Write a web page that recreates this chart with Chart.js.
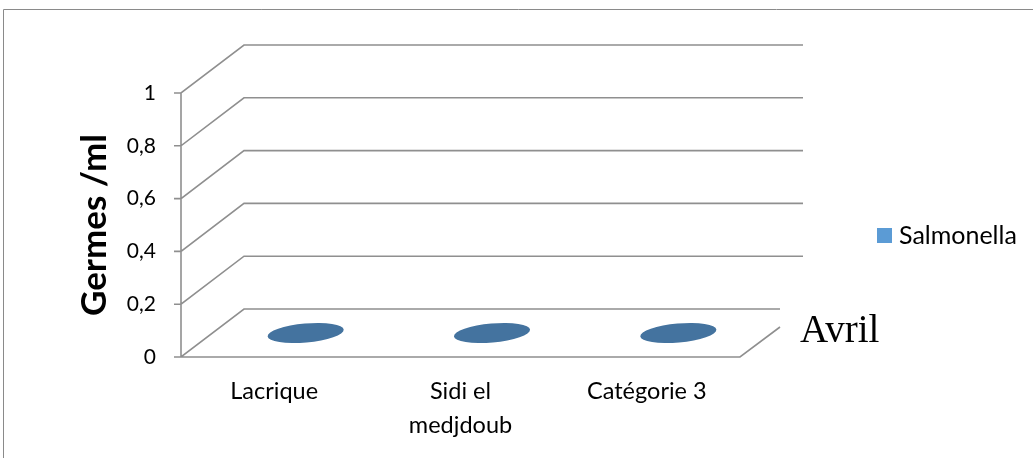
<!DOCTYPE html>
<html lang="fr">
<head>
  <meta charset="UTF-8" />
  <meta name="viewport" content="width=device-width, initial-scale=1.0" />
  <title>Salmonella - Avril</title>
  <style>
    body { margin: 0; background: #fff; }
    #wrap { position: relative; width: 1033px; height: 458px; }
  </style>
</head>
<body>
  <div id="wrap"><canvas id="myChart"></canvas></div>

  <script src="https://cdn.jsdelivr.net/npm/chart.js"></script>
  <script>
    const ctx = document.getElementById('myChart');

// data
const categories = ['Lacrique', ['Sidi el', 'medjdoub'], 'Catégorie 3'];
const salmonella = [0, 0, 0];
const seriesName = 'Salmonella';
const depthLabels = ['Avril'];
const yTicks = [0, 0.2, 0.4, 0.6, 0.8, 1];

const LINE = '#8f8f8f';
const SERIES_COLOR = '#5B9BD5';
const TOP_COLOR = '#44739F';
const DEPTH_X = 63, DEPTH_Y = 48;

// 3D walls, floor, cylinder tops and the side legend
const walls3d = {
  id: 'walls3d',
  beforeDraw(chart) {
    const c = chart.ctx;
    const a = chart.chartArea;
    const y = chart.scales.y;
    c.save();
    // outer frame
    c.strokeStyle = '#8a8a8a';
    c.lineWidth = 1;
    c.beginPath();
    c.moveTo(3.5, 470);
    c.lineTo(3.5, 9.5);
    c.lineTo(1040, 9.5);
    c.stroke();

    c.strokeStyle = LINE;
    c.lineWidth = 1.6;
    c.beginPath();
    // vertical axis
    c.moveTo(a.left, y.getPixelForValue(1));
    c.lineTo(a.left, y.getPixelForValue(0));
    yTicks.forEach(v => {
      const py = y.getPixelForValue(v);
      c.moveTo(a.left - 7, py);
      c.lineTo(a.left, py);
      c.lineTo(a.left + DEPTH_X, py - DEPTH_Y);
      const end = v === 0 ? a.right + 40 : a.right + DEPTH_X;
      c.lineTo(end, py - DEPTH_Y);
    });
    // floor front edge and right edge
    const y0 = y.getPixelForValue(0);
    c.moveTo(a.left, y0);
    c.lineTo(a.right, y0);
    c.lineTo(a.right + 40, y0 - 30);
    c.stroke();
    c.restore();
  },
  beforeDatasetsDraw() {
    return false;
  },
  afterDraw(chart) {
    const c = chart.ctx;
    const meta = chart.getDatasetMeta(0);
    c.save();
    meta.data.forEach(bar => {
      const cx = bar.x + DEPTH_X / 2;
      const top = bar.y - DEPTH_Y / 2;
      const base = bar.base - DEPTH_Y / 2;
      const rx = bar.width / 2, ry = 9.5, rot = -0.09;
      if (base - top > 0.5) {
        c.fillStyle = SERIES_COLOR;
        c.fillRect(cx - rx, top, rx * 2, base - top);
        c.beginPath();
        c.ellipse(cx, base, rx, ry, rot, 0, Math.PI);
        c.fill();
      }
      c.fillStyle = TOP_COLOR;
      c.beginPath();
      c.ellipse(cx, top, rx, ry, rot, 0, Math.PI * 2);
      c.fill();
    });

    // legend
    c.fillStyle = SERIES_COLOR;
    c.fillRect(877, 228, 15, 15);
    c.fillStyle = '#000';
    c.font = '25px Lato';
    c.textBaseline = 'middle';
    c.textAlign = 'left';
    c.fillText(seriesName, 899, 236);

    // depth axis label
    c.font = '39px "Liberation Serif"';
    c.fillText(depthLabels[0], 800, 332);
    c.restore();
  }
};

new Chart(ctx, {
  type: 'bar',
  data: {
    labels: categories,
    datasets: [{
      label: seriesName,
      data: salmonella,
      backgroundColor: SERIES_COLOR,
      borderWidth: 0,
      categoryPercentage: 1,
      barPercentage: 0.41
    }]
  },
  options: {
    responsive: true,
    maintainAspectRatio: false,
    animation: false,
    layout: { padding: { left: 0, top: 93, right: 293, bottom: 0 } },
    plugins: {
      legend: { display: false },
      tooltip: { enabled: false }
    },
    scales: {
      x: {
        grid: { display: false, drawTicks: false },
        border: { display: false },
        ticks: {
          color: '#000',
          padding: 17,
          font: { family: 'Lato', size: 23.5, lineHeight: '34px' }
        },
        afterFit(scale) { scale.height = 101; }
      },
      y: {
        min: 0,
        max: 1,
        grid: { display: false, drawTicks: true, tickLength: 7 },
        border: { display: false },
        ticks: {
          stepSize: 0.2,
          color: '#000',
          padding: 18,
          font: { family: 'Lato', size: 21 },
          callback: v => String(Math.round(v * 10) / 10).replace('.', ',')
        },
        title: {
          display: true,
          text: 'Germes /ml',
          color: '#000',
          padding: { top: 74 },
          font: { family: 'Lato', size: 35, weight: 'bold' }
        },
        afterFit(scale) { scale.width = 181; }
      }
    }
  },
  plugins: [walls3d]
});
  </script>
</body>
</html>
